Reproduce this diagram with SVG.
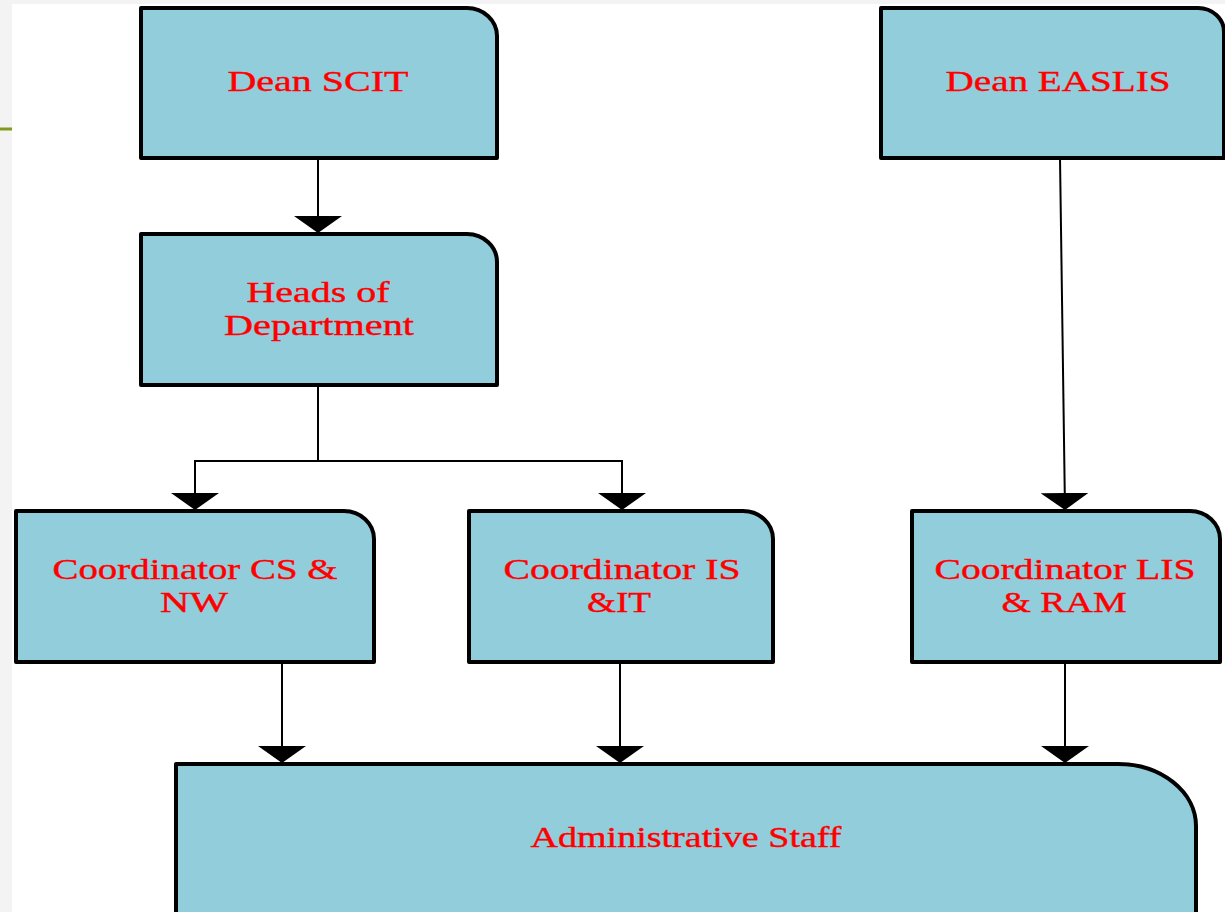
<svg xmlns="http://www.w3.org/2000/svg" width="1225" height="912" viewBox="0 0 1225 912">
<style>
.box{fill:#92CDDC;stroke:#000;stroke-width:4;stroke-linejoin:round}
.lbl{font-family:"Liberation Serif","Times New Roman",serif;font-size:30px;fill:#FF0000;stroke:#FF0000;stroke-width:0.4;text-anchor:middle}
.con{fill:none;stroke:#000;stroke-width:2}
</style>
<defs>
<marker id="ah" markerUnits="userSpaceOnUse" markerWidth="18" markerHeight="48" viewBox="0 0 18 48" refX="17" refY="24" orient="auto">
<path d="M0,0 L17,24 L0,48 Z" fill="#000"/>
</marker>
</defs>
<rect x="0" y="0" width="1225" height="912" fill="#f3f3f3"/>
<rect x="12" y="4" width="1213" height="908" fill="#ffffff"/>
<rect x="0" y="127.5" width="12" height="3" fill="#819A1E"/>

<g id="connectors">
<line class="con" x1="318" y1="158" x2="318" y2="233" marker-end="url(#ah)"/>
<polyline class="con" points="318,385 318,461 195,461 195,510" marker-end="url(#ah)"/>
<polyline class="con" points="318,461 622,461 622,510" marker-end="url(#ah)"/>
<line class="con" x1="1060" y1="158" x2="1065" y2="510" marker-end="url(#ah)"/>
<line class="con" x1="282" y1="662" x2="282" y2="763" marker-end="url(#ah)"/>
<line class="con" x1="620" y1="662" x2="620" y2="763" marker-end="url(#ah)"/>
<line class="con" x1="1065" y1="662" x2="1065" y2="763" marker-end="url(#ah)"/>
</g>

<g id="dean-scit">
<path class="box" d="M141,8 H467 A30,28 0 0 1 497,36 V158 H141 Z"/>
<text class="lbl" x="318" y="91" textLength="181" lengthAdjust="spacingAndGlyphs">Dean SCIT</text>
</g>
<g id="dean-easlis">
<path class="box" d="M881,8 H1198 A26,24 0 0 1 1224,32 V158 H881 Z"/>
<text class="lbl" x="1058" y="91" textLength="225" lengthAdjust="spacingAndGlyphs">Dean EASLIS</text>
</g>
<g id="heads">
<path class="box" d="M141,234 H467 A30,28 0 0 1 497,262 V385 H141 Z"/>
<text class="lbl" x="318" y="302" textLength="143" lengthAdjust="spacingAndGlyphs">Heads of</text>
<text class="lbl" x="319" y="335" textLength="190" lengthAdjust="spacingAndGlyphs">Department</text>
</g>
<g id="coord-cs">
<path class="box" d="M16,511 H344 A30,28 0 0 1 374,539 V662 H16 Z"/>
<text class="lbl" x="195" y="579" textLength="285" lengthAdjust="spacingAndGlyphs">Coordinator CS &amp;</text>
<text class="lbl" x="194" y="612" textLength="68" lengthAdjust="spacingAndGlyphs">NW</text>
</g>
<g id="coord-is">
<path class="box" d="M469,511 H743 A30,28 0 0 1 773,539 V662 H469 Z"/>
<text class="lbl" x="622" y="579" textLength="237" lengthAdjust="spacingAndGlyphs">Coordinator IS</text>
<text class="lbl" x="619" y="612" textLength="64" lengthAdjust="spacingAndGlyphs">&amp;IT</text>
</g>
<g id="coord-lis">
<path class="box" d="M912,511 H1190 A30,28 0 0 1 1220,539 V662 H912 Z"/>
<text class="lbl" x="1065" y="579" textLength="261" lengthAdjust="spacingAndGlyphs">Coordinator LIS</text>
<text class="lbl" x="1064" y="612" textLength="125" lengthAdjust="spacingAndGlyphs">&amp; RAM</text>
</g>
<g id="admin">
<path class="box" d="M176,764 H1118 A78,62 0 0 1 1196,826 V930 H176 Z"/>
<text class="lbl" x="686" y="847" textLength="311" lengthAdjust="spacingAndGlyphs">Administrative Staff</text>
</g>
</svg>
